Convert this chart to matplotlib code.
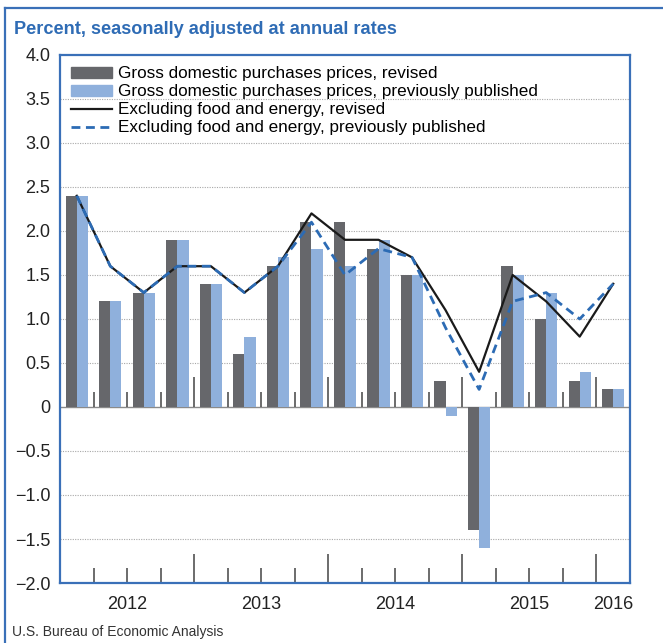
import numpy as np
import matplotlib
matplotlib.use('agg')
import matplotlib.pyplot as plt
from matplotlib.lines import Line2D
from matplotlib.patches import Patch

plt.rcParams['font.family'] = ['Liberation Sans', 'DejaVu Sans']

# quarterly data, 2012Q1 - 2016Q1
quarters = ['2012Q1', '2012Q2', '2012Q3', '2012Q4',
            '2013Q1', '2013Q2', '2013Q3', '2013Q4',
            '2014Q1', '2014Q2', '2014Q3', '2014Q4',
            '2015Q1', '2015Q2', '2015Q3', '2015Q4',
            '2016Q1']
gdp_revised = [2.4, 1.2, 1.3, 1.9, 1.4, 0.6, 1.6, 2.1, 2.1, 1.8, 1.5, 0.3, -1.4, 1.6, 1.0, 0.3, 0.2]
gdp_prev = [2.4, 1.2, 1.3, 1.9, 1.4, 0.8, 1.7, 1.8, 1.6, 1.9, 1.5, -0.1, -1.6, 1.5, 1.3, 0.4, 0.2]
core_revised = [2.4, 1.6, 1.3, 1.6, 1.6, 1.3, 1.6, 2.2, 1.9, 1.9, 1.7, 1.1, 0.4, 1.5, 1.2, 0.8, 1.4]
core_prev = [2.4, 1.6, 1.3, 1.6, 1.6, 1.3, 1.6, 2.1, 1.5, 1.8, 1.7, 0.9, 0.2, 1.2, 1.3, 1.0, 1.4]

labels = ["Gross domestic purchases prices, revised",
          "Gross domestic purchases prices, previously published",
          "Excluding food and energy, revised",
          "Excluding food and energy, previously published"]

dark = '#66676b'
light = '#8fb0dc'
blue = '#3a70b8'
dash_blue = '#2c6bb4'

x = np.arange(len(quarters))
qyear = [q[:4] for q in quarters]
years = sorted(set(qyear))

fig = plt.figure(figsize=(6.63, 6.43), dpi=100)
ax = fig.add_axes([60/663, 1-583/643, 570/663, 528/643])

w = 1/3
ax.bar(x - w/2, gdp_revised, w, color=dark, zorder=3, label=labels[0])
ax.bar(x + w/2, gdp_prev, w, color=light, zorder=3, label=labels[1])
ax.plot(x, core_revised, color='#1a1a1a', lw=1.6, zorder=4, label=labels[2])
ax.plot(x, core_prev, color=dash_blue, lw=2.0, ls=(0, (3.2, 2.0)), zorder=5, label=labels[3])

ax.set_xlim(-0.5, len(x) - 0.5)
ax.set_ylim(-2, 4)

# grid
for v in np.arange(-1.5, 4.0, 0.5):
    if abs(v) > 1e-9:
        ax.axhline(v, color='#a8a8a8', lw=0.8, ls=(0, (1, 1.2)), zorder=1)
ax.axhline(0, color='#8a8a8a', lw=1.0, zorder=2)

# quarter / year boundaries
bounds = x[:-1] + 0.5
year_bounds = [b for i, b in enumerate(bounds) if qyear[i] != qyear[i + 1]]
q_bounds = [b for i, b in enumerate(bounds) if qyear[i] == qyear[i + 1]]
ax.vlines(q_bounds, 0, 0.17, color='#444444', lw=1.1, zorder=2)
ax.vlines(year_bounds, 0, 0.34, color='#444444', lw=1.1, zorder=2)

ax.set_xticks(year_bounds)
ax.set_xticks(q_bounds, minor=True)
ax.set_xticklabels([])
ax.tick_params(axis='x', which='major', direction='in', length=21, width=1.1, color='#444444')
ax.tick_params(axis='x', which='minor', direction='in', length=10.5, width=1.1, color='#444444')

for yr in years:
    c = np.mean([xi for xi, y in zip(x, qyear) if y == yr])
    ax.text(c, -0.025, yr, transform=ax.get_xaxis_transform(), ha='center', va='top',
            fontsize=13, color='#222222')

yt = np.arange(-2, 4.01, 0.5)
ax.set_yticks(yt)
ax.set_yticklabels(['0' if abs(v) < 1e-9 else f'{v:.1f}'.replace('-', '\u2212') for v in yt],
                   fontsize=13, color='#222222')
ax.tick_params(axis='y', length=0, pad=7)

for s in ax.spines.values():
    s.set_color(blue)
    s.set_linewidth(1.6)

handles = [Patch(color=dark), Patch(color=light),
           Line2D([], [], color='#1a1a1a', lw=1.6),
           Line2D([], [], color=dash_blue, lw=2.0, ls=(0, (3.2, 2.0)))]
ax.legend(handles, labels, loc='upper left', bbox_to_anchor=(0.0, 1.0), frameon=False,
          fontsize=12.3, handlelength=2.4, handletextpad=0.35, labelspacing=0.18,
          borderaxespad=0.25, handleheight=0.6)

fig.text(14/663, 1-30/643, 'Percent, seasonally adjusted at annual rates', fontsize=13.1,
         weight='bold', color='#2f6cb5', va='center')
fig.text(12/663, 1-632/643, 'U.S. Bureau of Economic Analysis', fontsize=10, color='#333333',
         va='center')

# outer frame (top and left)
fig.add_artist(Line2D([5/663, 1], [1-8/643, 1-8/643], color=blue, lw=1.6, transform=fig.transFigure))
fig.add_artist(Line2D([5/663, 5/663], [0, 1-8/643], color=blue, lw=1.6, transform=fig.transFigure))

fig.savefig('out.png', dpi=100)
